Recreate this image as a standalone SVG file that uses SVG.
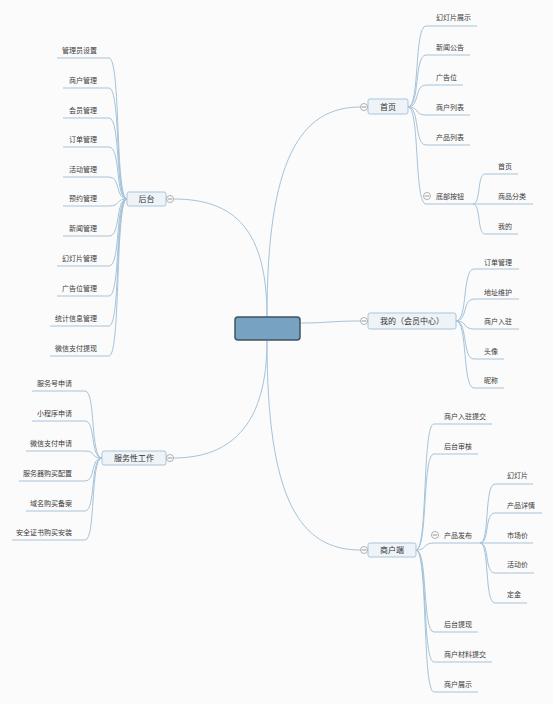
<svg xmlns="http://www.w3.org/2000/svg" width="553" height="704" viewBox="0 0 553 704">
<style>
.bg{fill:#fbfbfb}
.ln{fill:none;stroke:#a5c3da;stroke-width:1}
.box{fill:#eef3f8;stroke:#a9c5dc;stroke-width:1}
.root{fill:#77a2c0;stroke:#3d5466;stroke-width:1.5}
.t{font-family:"Noto Sans CJK SC","Noto Sans",sans-serif;font-size:7px;fill:#3a3a3a}
.n{font-family:"Noto Sans CJK SC","Noto Sans",sans-serif;font-size:8px;fill:#333;text-anchor:middle}
.e{text-anchor:end}
.c{fill:#fff;stroke:#9a9a9a;stroke-width:0.8}
.m{stroke:#777;stroke-width:0.8}
</style>
<rect class="bg" x="0" y="0" width="553" height="704"/>
<g id="connectors">
<path class="ln" d="M267,317 C267,160 300,107 360.5,107"/>
<path class="ln" d="M267,317 C267,230 235,199 173.5,199"/>
<path class="ln" d="M267,341 C267,420 235,458 173.5,458"/>
<path class="ln" d="M267,341 C267,500 300,550 360.5,550"/>
<path class="ln" d="M300,323 C330,323 330,321 360.5,321"/>
<!-- 首页 children -->
<path class="ln" d="M408,107 C420,107 414,26 426,26 H477"/>
<path class="ln" d="M408,107 C420,107 414,55 426,55 H470"/>
<path class="ln" d="M408,107 C420,107 414,85 426,85 H463"/>
<path class="ln" d="M408,107 C420,107 414,115 426,115 H470"/>
<path class="ln" d="M408,107 C420,107 414,145 426,145 H470"/>
<path class="ln" d="M408,107 C420,107 414,204 426,204 H473"/>
<path class="ln" d="M473,204 C481,204 477,174 485,174 H518"/>
<path class="ln" d="M473,204 H533"/>
<path class="ln" d="M473,204 C481,204 477,234 485,234 H518"/>
<!-- 我的 children -->
<path class="ln" d="M456,321 C468,321 462,269 474,269 H519"/>
<path class="ln" d="M456,321 C468,321 462,299 474,299 H519"/>
<path class="ln" d="M456,321 C468,321 462,329 474,329 H519"/>
<path class="ln" d="M456,321 C468,321 462,359 474,359 H504"/>
<path class="ln" d="M456,321 C468,321 462,388 474,388 H504"/>
<!-- 商户端 children -->
<path class="ln" d="M416,550 C428,550 422,424 434,424 H492"/>
<path class="ln" d="M416,550 C428,550 422,454 434,454 H478"/>
<path class="ln" d="M416,550 C428,550 422,543 434,543 H480"/>
<path class="ln" d="M416,550 C428,550 422,632 434,632 H478"/>
<path class="ln" d="M416,550 C428,550 422,662 434,662 H492"/>
<path class="ln" d="M416,550 C428,550 422,692 434,692 H478"/>
<path class="ln" d="M480,543 C490,543 484,484 495,484 H533"/>
<path class="ln" d="M480,543 C490,543 484,513 495,513 H542"/>
<path class="ln" d="M480,543 H533"/>
<path class="ln" d="M480,543 C490,543 484,573 495,573 H534"/>
<path class="ln" d="M480,543 C490,543 484,603 495,603 H527"/>
<!-- 后台 children -->
<path class="ln" d="M127,199 C115,199 121,58 109,58 H57"/>
<path class="ln" d="M127,199 C115,199 121,88 109,88 H63"/>
<path class="ln" d="M127,199 C115,199 121,118 109,118 H63"/>
<path class="ln" d="M127,199 C115,199 121,147 109,147 H63"/>
<path class="ln" d="M127,199 C115,199 121,177 109,177 H63"/>
<path class="ln" d="M127,199 C115,199 121,206 109,206 H63"/>
<path class="ln" d="M127,199 C115,199 121,236 109,236 H63"/>
<path class="ln" d="M127,199 C115,199 121,266 109,266 H57"/>
<path class="ln" d="M127,199 C115,199 121,296 109,296 H57"/>
<path class="ln" d="M127,199 C115,199 121,326 109,326 H50"/>
<path class="ln" d="M127,199 C115,199 121,356 109,356 H50"/>
<!-- 服务性工作 children -->
<path class="ln" d="M102,458 C90,458 96,391 85,391 H32"/>
<path class="ln" d="M102,458 C90,458 96,421 85,421 H32"/>
<path class="ln" d="M102,458 C90,458 96,451 85,451 H26"/>
<path class="ln" d="M102,458 C90,458 96,481 85,481 H19"/>
<path class="ln" d="M102,458 C90,458 96,511 85,511 H26"/>
<path class="ln" d="M102,458 C90,458 96,540 85,540 H12"/>
</g>
<g id="root"><rect class="root" x="235" y="317" width="65" height="23" rx="3"/></g>
<g id="n-shouye">
<rect class="box" x="368" y="99" width="40" height="15" rx="2"/>
<text class="n" x="388" y="110">首页</text>
<circle class="c" cx="364" cy="107" r="3.5"/><path class="m" d="M361.8,107 H366.2"/>
</g>
<g id="n-shouye-children">
<text class="t" x="436" y="19.5">幻灯片展示</text>
<text class="t" x="436" y="49.5">新闻公告</text>
<text class="t" x="436" y="79.5">广告位</text>
<text class="t" x="436" y="109.5">商户列表</text>
<text class="t" x="436" y="139.5">产品列表</text>
</g>
<g id="n-dibu">
<text class="t" x="436" y="198.5">底部按钮</text>
<circle class="c" cx="427" cy="196" r="3.5"/><path class="m" d="M424.8,196 H429.2"/>
<text class="t" x="498" y="168.5">首页</text>
<text class="t" x="498" y="198.5">商品分类</text>
<text class="t" x="498" y="228.5">我的</text>
</g>
<g id="n-wode">
<rect class="box" x="368" y="313" width="88" height="16" rx="2"/>
<text class="n" x="412" y="324">我的（会员中心）</text>
<circle class="c" cx="364" cy="321" r="3.5"/><path class="m" d="M361.8,321 H366.2"/>
<text class="t" x="484" y="264.5">订单管理</text>
<text class="t" x="484" y="294.5">地址维护</text>
<text class="t" x="484" y="323.5">商户入驻</text>
<text class="t" x="484" y="353.5">头像</text>
<text class="t" x="484" y="382.5">昵称</text>
</g>
<g id="n-shanghu">
<rect class="box" x="368" y="543" width="48" height="14" rx="2"/>
<text class="n" x="392" y="553">商户端</text>
<circle class="c" cx="364" cy="550" r="3.5"/><path class="m" d="M361.8,550 H366.2"/>
<text class="t" x="444" y="418.5">商户入驻提交</text>
<text class="t" x="444" y="448.5">后台审核</text>
<text class="t" x="444" y="626.5">后台提现</text>
<text class="t" x="444" y="656.5">商户材料提交</text>
<text class="t" x="444" y="686.5">商户展示</text>
</g>
<g id="n-chanpin">
<text class="t" x="444" y="537.5">产品发布</text>
<circle class="c" cx="435" cy="535" r="3.5"/><path class="m" d="M432.8,535 H437.2"/>
<text class="t" x="507" y="477.5">幻灯片</text>
<text class="t" x="507" y="507.5">产品详情</text>
<text class="t" x="507" y="537.5">市场价</text>
<text class="t" x="507" y="566.5">活动价</text>
<text class="t" x="507" y="596.5">定金</text>
</g>
<g id="n-houtai">
<rect class="box" x="127" y="192" width="39" height="14" rx="2"/>
<text class="n" x="146.5" y="202">后台</text>
<circle class="c" cx="170" cy="199" r="3.5"/><path class="m" d="M167.8,199 H172.2"/>
<text class="t e" x="97" y="52.5">管理员设置</text>
<text class="t e" x="97" y="82.5">商户管理</text>
<text class="t e" x="97" y="112.5">会员管理</text>
<text class="t e" x="97" y="141.5">订单管理</text>
<text class="t e" x="97" y="171.5">活动管理</text>
<text class="t e" x="97" y="200.5">预约管理</text>
<text class="t e" x="97" y="230.5">新闻管理</text>
<text class="t e" x="97" y="260.5">幻灯片管理</text>
<text class="t e" x="97" y="290.5">广告位管理</text>
<text class="t e" x="97" y="320.5">统计信息管理</text>
<text class="t e" x="97" y="350.5">微信支付提现</text>
</g>
<g id="n-fuwu">
<rect class="box" x="102" y="451" width="64" height="14" rx="2"/>
<text class="n" x="134" y="461">服务性工作</text>
<circle class="c" cx="170" cy="458" r="3.5"/><path class="m" d="M167.8,458 H172.2"/>
<text class="t e" x="72" y="385.5">服务号申请</text>
<text class="t e" x="72" y="415.5">小程序申请</text>
<text class="t e" x="72" y="445.5">微信支付申请</text>
<text class="t e" x="72" y="475.5">服务器购买配置</text>
<text class="t e" x="72" y="505.5">域名购买备案</text>
<text class="t e" x="72" y="534.5">安全证书购买安装</text>
</g>
</svg>
